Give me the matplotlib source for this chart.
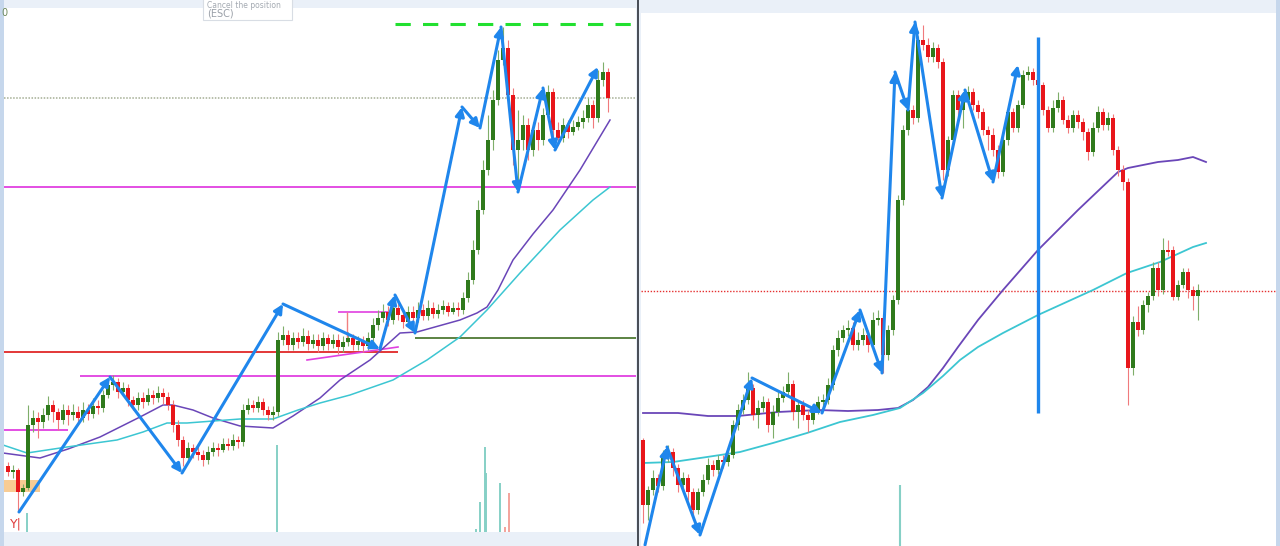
import matplotlib
matplotlib.use("Agg")
import matplotlib.pyplot as plt
from matplotlib.patches import Rectangle
import numpy as np

W, H = 1280, 546

# ---- left chart (screen units: y grows downwards) ----
left_open0 = 466
left_close = [472, 470, 492, 488, 425, 418, 422, 415, 405, 412,
              420, 410, 415, 412, 418, 410, 414, 406, 408, 395,
              385, 382, 392, 388, 400, 405, 398, 402, 395, 398,
              393, 397, 405, 425, 440, 458, 448, 452, 455, 460,
              452, 448, 450, 444, 446, 440, 442, 410, 405, 408,
              402, 410, 415, 412, 340, 335, 345, 338, 342, 336,
              344, 340, 346, 338, 344, 340, 347, 342, 338, 345,
              341, 346, 338, 325, 318, 312, 320, 308, 315, 322,
              312, 318, 310, 316, 308, 314, 310, 306, 312, 308,
              310, 298, 280, 250, 210, 170, 140, 100, 60, 48,
              95, 150, 140, 125, 150, 130, 140, 115, 92, 130,
              138, 125, 132, 127, 122, 118, 105, 118, 80, 72,
              98]
left_high = [462, 465, 468, 484, 405, 410, 412, 408, 396, 400,
             408, 404, 405, 404, 406, 402, 404, 398, 400, 390,
             378, 375, 378, 382, 384, 396, 392, 392, 388, 390,
             386, 388, 392, 400, 420, 436, 442, 444, 446, 450,
             446, 442, 443, 438, 438, 434, 436, 404, 398, 400,
             396, 398, 406, 406, 332, 326, 330, 332, 332, 328,
             330, 334, 334, 332, 334, 334, 334, 336, 332, 334,
             336, 336, 332, 318, 310, 304, 306, 300, 302, 310,
             306, 306, 302, 304, 300, 302, 304, 300, 302, 302,
             302, 292, 272, 240, 200, 160, 115, 90, 50, 27,
             40, 88, 110, 115, 118, 122, 122, 108, 85, 88,
             122, 118, 120, 120, 116, 110, 98, 100, 70, 62,
             68]
left_low = [476, 478, 512, 496, 490, 432, 438, 428, 420, 422,
            430, 424, 425, 420, 424, 422, 420, 418, 414, 412,
            398, 390, 398, 396, 406, 410, 410, 408, 405, 404,
            402, 404, 410, 432, 446, 466, 462, 458, 460, 466,
            464, 456, 456, 452, 450, 450, 448, 446, 414, 412,
            412, 415, 420, 420, 416, 345, 350, 350, 348, 346,
            350, 348, 352, 350, 350, 348, 354, 352, 346, 350,
            350, 352, 350, 342, 330, 322, 326, 324, 320, 328,
            326, 324, 322, 320, 320, 318, 318, 314, 316, 314,
            316, 314, 302, 284, 254, 214, 175, 150, 105, 65,
            100, 165, 190, 150, 160, 156, 150, 145, 120, 136,
            145, 142, 138, 135, 130, 128, 122, 128, 122, 86,
            112]

# moving averages (sampled along the bar index)
left_ma_slow_x = [-1, 6.4, 12, 18.4, 26.4, 31, 33, 37, 41, 46.4, 53, 57, 62.4, 66.4, 72.4,
                  78.4, 81.8, 90.4, 93.8, 95.8, 98, 101, 105, 109, 114.4, 120.4]
left_ma_slow = [453, 458, 449, 437, 417, 405, 405, 410, 418, 426, 428, 416, 398, 380, 360,
                333, 332, 320, 313, 307, 290, 260, 234, 210, 170, 120]
left_ma_fast_x = [-1, 3.8, 11.8, 21.8, 27, 31.8, 35.8, 46.4, 53, 58, 62.4, 68.4, 77,
                  83.8, 90.4, 95.8, 102.4, 110.4, 117, 120.4]
left_ma_fast = [445, 453, 447, 440, 432, 423, 423, 419, 419, 410, 403, 395, 380,
                360, 337, 310, 273, 230, 200, 187]

# zigzag swings
left_swing_x = [2.2, 20.4, 34.8, 55, 74.4, 77.4, 81.4, 90.8, 94.4, 98.6, 102, 107, 109.4, 118]
left_swing_y = [512, 377, 473, 304, 349, 295, 333, 107, 128, 27, 192, 88, 150, 67]

# volume spikes
left_vol_x = [3.8, 53.8, 93.6, 94.4, 95.4, 95.6, 98.4, 99.4, 100.2]
left_vol_top = [513, 445, 529, 502, 447, 473, 483, 527, 493]
left_vol_up = [True, True, True, True, True, True, True, False, False]

# ---- right chart ----
right_open0 = 440
right_close = [505, 490, 478, 486, 455, 452, 468, 485, 478, 492,
               510, 492, 480, 465, 470, 460, 462, 455, 425, 410,
               400, 388, 415, 408, 402, 425, 412, 398, 392, 384,
               412, 405, 415, 420, 410, 402, 400, 385, 350, 338,
               330, 328, 345, 340, 335, 345, 320, 318, 355, 330,
               300, 200, 130, 110, 118, 40, 45, 57, 48, 62,
               170, 140, 95, 110, 100, 92, 105, 112, 130, 135,
               150, 172, 140, 112, 128, 105, 75, 72, 80, 85,
               110, 128, 108, 100, 120, 128, 115, 122, 132, 152,
               128, 112, 125, 118, 150, 170, 182, 368, 322, 330,
               305, 296, 268, 290, 250, 250, 297, 285, 272, 290,
               296, 290]
right_high = [438, 486, 470, 474, 450, 445, 448, 464, 472, 474,
              488, 488, 474, 458, 460, 455, 455, 448, 420, 404,
              394, 372, 384, 400, 396, 398, 405, 392, 386, 372,
              380, 400, 400, 410, 404, 396, 394, 378, 345, 330,
              325, 320, 322, 332, 328, 330, 312, 310, 314, 325,
              295, 195, 125, 104, 105, 36, 25, 38, 42, 44,
              58, 136, 90, 90, 94, 86, 88, 100, 108, 126,
              128, 145, 136, 108, 108, 100, 70, 66, 68, 76,
              82, 106, 100, 92, 96, 115, 110, 110, 118, 128,
              122, 106, 108, 112, 114, 146, 165, 178, 316, 306,
              300, 292, 262, 262, 238, 240, 246, 280, 268, 268,
              286, 284]
right_low = [523, 520, 495, 492, 490, 462, 476, 492, 490, 500,
             520, 514, 496, 484, 476, 474, 468, 466, 458, 430,
             414, 404, 420, 428, 412, 432, 438, 416, 402, 396,
             420, 428, 420, 432, 424, 414, 408, 404, 390, 356,
             342, 336, 350, 350, 345, 352, 348, 325, 373, 360,
             335, 304, 205, 135, 124, 122, 50, 62, 62, 68,
             180, 176, 145, 116, 128, 104, 110, 118, 135, 150,
             156, 178, 176, 145, 132, 132, 108, 80, 85, 92,
             115, 132, 132, 112, 124, 133, 132, 128, 140, 160,
             156, 132, 130, 130, 155, 176, 190, 405, 375, 336,
             334, 312, 300, 296, 294, 256, 300, 300, 288, 298,
             310, 320]

right_ma_slow_x = [0, 7, 13, 19, 27, 35, 41, 47, 51, 54, 57, 60, 63, 67, 72, 79, 87, 95, 97,
                   100, 103, 107, 110, 112.6]
right_ma_slow = [413, 413, 416, 416, 412, 410, 411, 410, 408, 400, 387, 368, 347, 320, 290,
                 250, 210, 172, 168, 165, 162, 160, 157, 162]
right_ma_fast_x = [0, 6, 12.8, 19.4, 26, 32.8, 39.4, 46, 51.4, 56, 60, 63.4, 67, 72, 79, 90,
                   96.8, 103.4, 110, 112.6]
right_ma_fast = [463, 462, 457, 452, 443, 433, 422, 415, 408, 393, 376, 360, 347, 333, 315,
                 290, 273, 262, 247, 243]

right_swing_x = [0.4, 4.8, 11.4, 21.8, 35.8, 43.4, 47.8, 50.4, 53, 54.4, 59.8, 64.4, 70, 75]
right_swing_y = [545, 447, 535, 378, 413, 310, 373, 72, 110, 22, 198, 90, 182, 65]

right_vol_x = [51.4]
right_vol_top = [485]

# colours
BG = "#eaf0f8"
UP = "#2f7a1c"
DOWN = "#e8161b"
SLOW = "#6a46b8"
FAST = "#3cc6d2"
BLUE = "#1f86ec"
MAGENTA = "#e040e0"


def candles(ax, open0, close, high, low, width):
    c = np.array(close, dtype=float)
    o = np.concatenate([[open0], c[:-1]])
    hi = np.minimum(np.array(high, float), np.minimum(o, c))
    lo = np.maximum(np.array(low, float), np.maximum(o, c))
    x = np.arange(len(c))
    up = c < o  # screen units: up means smaller y
    cols = np.where(up, UP, DOWN)
    wick = np.where(up, "#7fae6a", "#f07a7c")
    ax.vlines(x, hi, lo, colors=wick, lw=0.8, zorder=3)
    body_h = np.maximum(np.abs(c - o), 1.5)
    ax.bar(x, body_h, bottom=np.minimum(o, c), width=width, color=cols,
           linewidth=0, zorder=4)


def zigzag(ax, xs, ys):
    for i in range(1, len(xs)):
        ax.annotate('', xy=(xs[i], ys[i]), xytext=(xs[i - 1], ys[i - 1]),
                    arrowprops=dict(arrowstyle='-|>', color=BLUE, lw=2.2,
                                    mutation_scale=13, shrinkA=0, shrinkB=0),
                    zorder=6)


def clean(ax):
    ax.set_facecolor("white")
    ax.set_xticks([])
    ax.set_yticks([])
    for s in ax.spines.values():
        s.set_visible(False)


def rect(x0, y0, x1, y1):
    # pixel box -> figure fraction
    return [x0 / W, 1 - y1 / H, (x1 - x0) / W, (y1 - y0) / H]


fig = plt.figure(figsize=(W / 100, H / 100), dpi=100, facecolor=BG)

# ---------------- left panel ----------------
axl = fig.add_axes(rect(4, 8, 636, 532))
clean(axl)
axl.set_xlim((4 - 8) / 5, (636 - 8) / 5)
axl.set_ylim(532, 8)

axl.axhline(98, color="#a4ae94", lw=1.1, ls=(0, (1, 1)), zorder=1)
axl.axhline(187, color=MAGENTA, lw=1.3, zorder=1)
axl.hlines(24, 77.4, 126, color="#22e030", lw=2.2, linestyles=(0, (5, 4)), zorder=1)
axl.hlines(352, -1, 78, color="#e02828", lw=1.3, zorder=1)
axl.hlines(376, 14.4, 126, color=MAGENTA, lw=1.3, zorder=1)
axl.hlines(430, -1, 12, color=MAGENTA, lw=1.3, zorder=1)
axl.hlines(338, 81.4, 126, color="#4e7a34", lw=1.3, zorder=1)
axl.hlines(312, 66, 76.4, color=MAGENTA, lw=1.2, zorder=1)
axl.vlines(67.8, 312, 342, color="#f08080", lw=1.0, zorder=1)
axl.plot([59.8, 78], [360, 347], color=MAGENTA, lw=1.2, zorder=1)
axl.add_patch(Rectangle((-1, 480), 7.4, 12, color="#f7c07a", alpha=0.8, lw=0, zorder=2))

axl.plot(left_ma_slow_x, left_ma_slow, color=SLOW, lw=1.1, zorder=2)
axl.plot(left_ma_fast_x, left_ma_fast, color=FAST, lw=1.1, zorder=2)

for vx, vt, vu in zip(left_vol_x, left_vol_top, left_vol_up):
    axl.vlines(vx, vt, 532, color="#86d0c6" if vu else "#f3a39b", lw=1.4, zorder=2)

candles(axl, left_open0, left_close, left_high, left_low, 0.7)
zigzag(axl, left_swing_x, left_swing_y)

axl.text(0.4, 524, "Y|", color="#e03a3a", fontsize=9, va="center", ha="left", zorder=7)

# ---------------- right panel ----------------
axr = fig.add_axes(rect(641, 13, 1276, 546))
clean(axr)
axr.set_xlim((641 - 643) / 5, (1276 - 643) / 5)
axr.set_ylim(546, 13)

axr.axhline(291, color="#e53030", lw=1.0, ls=(0, (1, 1.2)), zorder=1)
axr.plot(right_ma_slow_x, right_ma_slow, color=SLOW, lw=1.3, zorder=2)
axr.plot(right_ma_fast_x, right_ma_fast, color=FAST, lw=1.3, zorder=2)
for vx, vt in zip(right_vol_x, right_vol_top):
    axr.vlines(vx, vt, 546, color="#86d0c6", lw=1.5, zorder=2)

candles(axr, right_open0, right_close, right_high, right_low, 0.72)
zigzag(axr, right_swing_x, right_swing_y)
axr.vlines(79, 37, 413, color=BLUE, lw=2.4, zorder=6)

# ---------------- frame details ----------------
fig.add_artist(Rectangle((0, 0), 4 / W, 1, transform=fig.transFigure,
                         color="#c6d7ec", lw=0))
fig.add_artist(Rectangle((1276 / W, 0), 4 / W, 1, transform=fig.transFigure,
                         color="#c6d7ec", lw=0))
fig.add_artist(Rectangle((636.5 / W, 0), 2 / W, 1, transform=fig.transFigure,
                         color="#4a4f58", lw=0))

# tooltip box at the top edge
fig.add_artist(Rectangle((203 / W, 1 - 20 / H), 89 / W, 22 / H, transform=fig.transFigure,
                         facecolor="white", edgecolor="#d8dde4", lw=0.8))
fig.text(207 / W, 1 - 5 / H, "Cancel the position", color="#a4aab2", fontsize=5.5,
         va="center", ha="left")
fig.text(207 / W, 1 - 14 / H, "(ESC)", color="#9aa0a8", fontsize=7,
         va="center", ha="left")
fig.text(1 / W, 1 - 13 / H, "0", color="#6f8a5a", fontsize=7, va="center", ha="left")

fig.savefig("out.png", dpi=100, facecolor=BG)
